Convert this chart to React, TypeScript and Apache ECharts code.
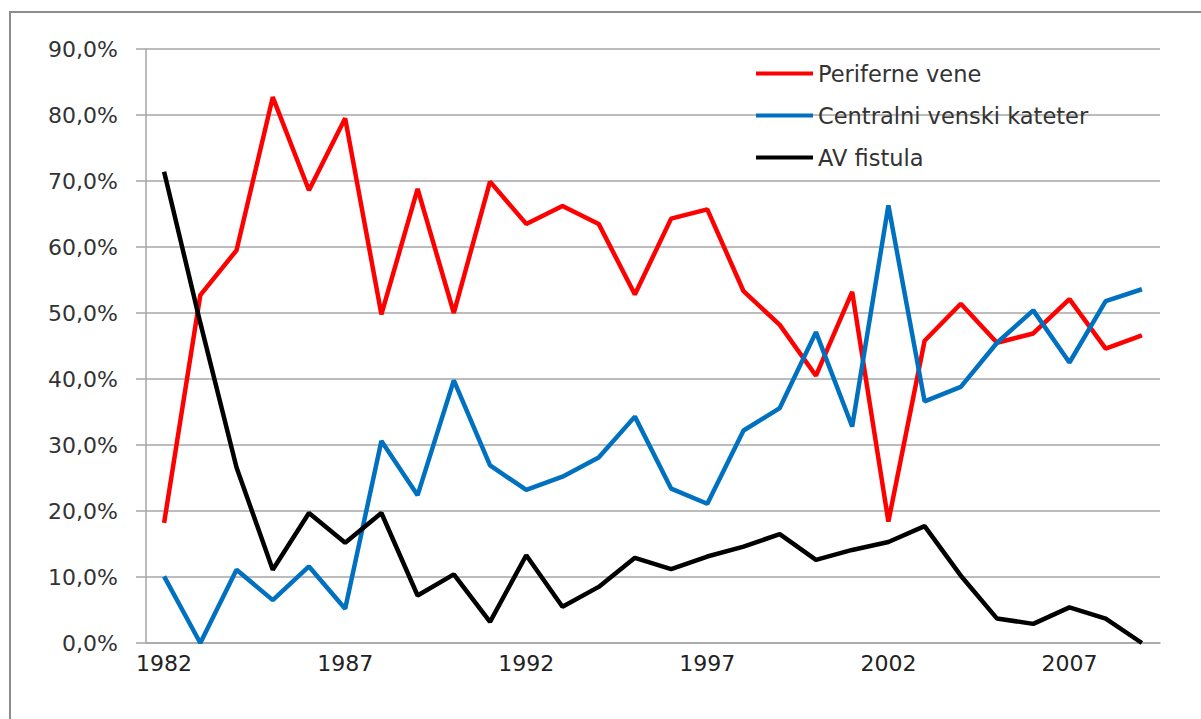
import React, { useEffect, useRef } from "react";
import * as echarts from "echarts";

const years = ["1982","1983","1984","1985","1986","1987","1988","1989","1990","1991","1992","1993","1994","1995","1996","1997","1998","1999","2000","2001","2002","2003","2004","2005","2006","2007","2008","2009"];
const periferneVene = [18.2, 52.7, 59.5, 82.7, 68.6, 79.5, 49.8, 68.8, 50.0, 69.9, 63.5, 66.2, 63.5, 52.8, 64.3, 65.7, 53.3, 48.2, 40.5, 53.2, 18.4, 45.8, 51.4, 45.5, 46.9, 52.1, 44.6, 46.6];
const centralniKateter = [10.1, 0, 11.1, 6.5, 11.6, 5.2, 30.6, 22.4, 39.8, 26.9, 23.2, 25.2, 28.1, 34.3, 23.4, 21.1, 32.2, 35.6, 47.1, 32.8, 66.3, 36.6, 38.8, 45.5, 50.4, 42.5, 51.8, 53.6];
const avFistula = [71.4, 48.5, 26.6, 11.1, 19.7, 15.2, 19.7, 7.2, 10.4, 3.2, 13.3, 5.5, 8.5, 12.9, 11.2, 13.1, 14.6, 16.5, 12.6, 14.1, 15.3, 17.7, 10.2, 3.7, 2.9, 5.4, 3.7, 0];
const seriesNames = ["Periferne vene", "Centralni venski kateter", "AV fistula"];
const seriesColors = ["#FF0000", "#0070C0", "#000000"];

export default function App() {
  const ref = useRef<HTMLDivElement>(null);
  useEffect(() => {
    if (!ref.current) return;
    const chart = echarts.init(ref.current, null, { renderer: "svg" });
    const font = "DejaVu Sans";
    const dataSets = [periferneVene, centralniKateter, avFistula];
    chart.setOption({
      animation: false,
      backgroundColor: "#ffffff",
      graphic: [
        {
          type: "rect",
          shape: { x: 10, y: 12, width: 1400, height: 900 },
          style: { fill: "none", stroke: "#8c8c8c", lineWidth: 2 },
          silent: true,
          z: -1,
        },
      ],
      grid: { left: 146, top: 49, right: 41, bottom: 76, containLabel: false },
      legend: {
        orient: "vertical",
        left: 751,
        top: 57,
        itemWidth: 57,
        itemHeight: 4,
        itemGap: 19,
        icon: "rect",
        textStyle: { fontFamily: font, fontSize: 22.5, color: "#333333" },
        data: seriesNames,
      },
      xAxis: {
        type: "category",
        data: years,
        boundaryGap: true,
        axisLine: { show: true, lineStyle: { color: "#a6a6a6", width: 1.5 } },
        axisTick: { show: false },
        axisLabel: {
          interval: 4,
          margin: 9,
          fontFamily: font,
          fontSize: 22,
          color: "#222222",
        },
      },
      yAxis: {
        type: "value",
        min: 0,
        max: 90,
        interval: 10,
        axisLine: { show: true, lineStyle: { color: "#a6a6a6", width: 1.5 } },
        axisTick: { show: true, length: 10, lineStyle: { color: "#a6a6a6", width: 1.5 } },
        splitLine: { show: true, lineStyle: { color: "#a6a6a6", width: 1.5 } },
        axisLabel: {
          margin: 28,
          fontFamily: font,
          fontSize: 22,
          color: "#333333",
          formatter: (v: number) => v.toFixed(1).replace(".", ",") + "%",
        },
      },
      series: seriesNames.map((name, i) => ({
        name,
        type: "line",
        data: dataSets[i],
        symbol: "none",
        color: seriesColors[i],
        lineStyle: { width: 4.5, color: seriesColors[i] },
      })),
    });
    return () => chart.dispose();
  }, []);
  return (
    <div
      ref={ref}
      style={{ position: "fixed", left: 0, top: 0, width: 1201, height: 719 }}
    />
  );
}
